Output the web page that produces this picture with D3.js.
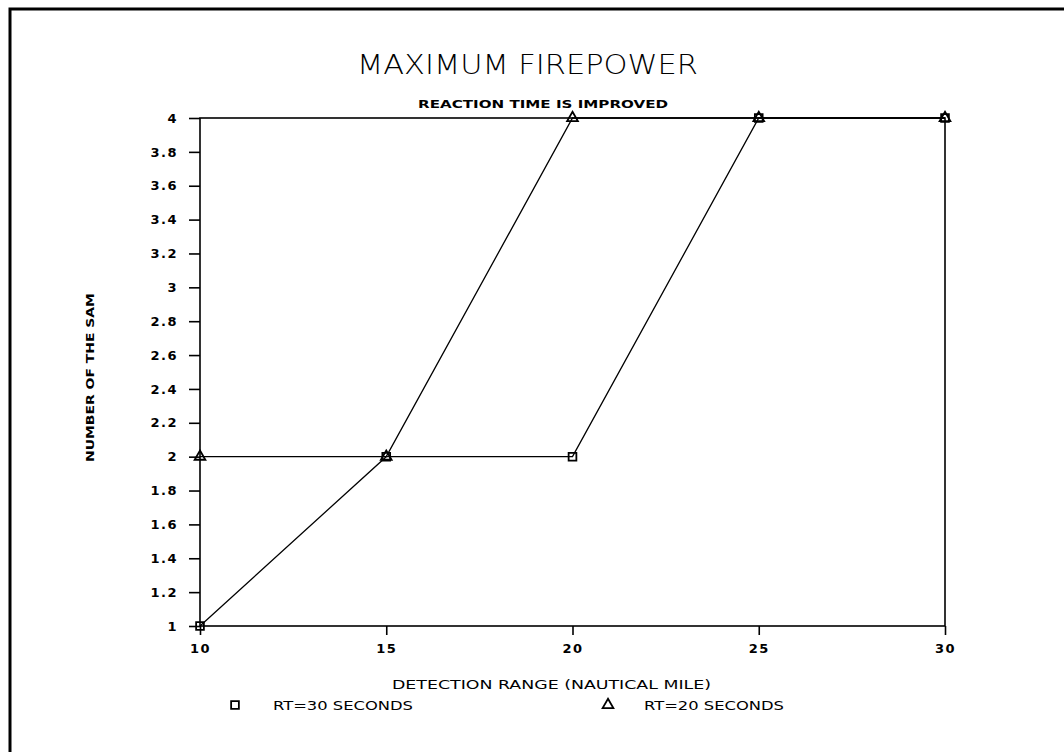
<!DOCTYPE html>
<html>
<head>
<meta charset="utf-8">
<script src="https://cdn.jsdelivr.net/npm/d3@7"></script>
<style>
  body { margin: 0; background: #fff; }
  text { font-family: "DejaVu Sans", sans-serif; fill: #000; }
</style>
</head>
<body>
<div id="chart"></div>
<script>
// data
var ranges = [10, 15, 20, 25, 30];
var rt30 = [1, 2, 2, 4, 4];
var rt20 = [2, 2, 4, 4, 4];
var yTicks = [1, 1.2, 1.4, 1.6, 1.8, 2, 2.2, 2.4, 2.6, 2.8, 3, 3.2, 3.4, 3.6, 3.8, 4];
var xTicks = [10, 15, 20, 25, 30];

var width = 1064, height = 752;
var svg = d3.select("#chart").append("svg").attr("width", width).attr("height", height);

// frame (only top and left edges fall inside the picture)
svg.append("path").attr("d", "M10," + height + "V9H" + width)
  .attr("fill", "none").attr("stroke", "#000").attr("stroke-width", 3);

var x = d3.scaleLinear().domain([10, 30]).range([200, 945]);
var y = d3.scaleLinear().domain([1, 4]).range([626, 118]);

// axes
var yAxis = d3.axisLeft(y).tickValues(yTicks).tickSize(11).tickPadding(11)
  .tickFormat(function(d) { return d3.format("~g")(d); });
var xAxis = d3.axisBottom(x).tickValues(xTicks).tickSize(9).tickPadding(9);

var gy = svg.append("g").attr("transform", "translate(200,0)").call(yAxis);
var gx = svg.append("g").attr("transform", "translate(0,626)").call(xAxis);
[gy, gx].forEach(function(g) {
  g.select(".domain").remove();
  g.selectAll("line").attr("stroke", "#000").attr("stroke-width", 1.6);
  g.selectAll("text").style("font-size", "13px").style("font-weight", "bold").style("letter-spacing", "1.5px");
});

// plot box
svg.append("rect").attr("x", x(10)).attr("y", y(4)).attr("width", x(30) - x(10)).attr("height", y(1) - y(4))
  .attr("fill", "none").attr("stroke", "#000").attr("stroke-width", 1.6);

// lines
var line = d3.line().x(function(d) { return x(d[0]); }).y(function(d) { return y(d[1]); });
var s30 = ranges.map(function(r, i) { return [r, rt30[i]]; });
var s20 = ranges.map(function(r, i) { return [r, rt20[i]]; });

svg.append("path").attr("d", line(s30)).attr("fill", "none").attr("stroke", "#000").attr("stroke-width", 1.3);
svg.append("path").attr("d", line(s20)).attr("fill", "none").attr("stroke", "#000").attr("stroke-width", 1.3);

var sq = d3.symbol().type(d3.symbolSquare).size(60);
var tri = d3.symbol().type(d3.symbolTriangle).size(50);

svg.selectAll(".m30").data(s30).enter().append("path")
  .attr("d", sq).attr("transform", function(d) { return "translate(" + x(d[0]) + "," + y(d[1]) + ")"; })
  .attr("fill", "none").attr("stroke", "#000").attr("stroke-width", 1.8);
svg.selectAll(".m20").data(s20).enter().append("path")
  .attr("d", tri).attr("transform", function(d) { return "translate(" + x(d[0]) + "," + y(d[1]) + ")"; })
  .attr("fill", "none").attr("stroke", "#000").attr("stroke-width", 1.8);

// titles
svg.append("text").attr("x", 357).attr("y", 74)
  .attr("textLength", 341).attr("lengthAdjust", "spacingAndGlyphs")
  .style("font-size", "26px").style("font-weight", "200")
  .text("MAXIMUM FIREPOWER");
svg.append("text").attr("x", 418).attr("y", 108)
  .attr("textLength", 250).attr("lengthAdjust", "spacingAndGlyphs")
  .style("font-size", "11px").style("font-weight", "bold")
  .text("REACTION TIME IS IMPROVED");

svg.append("text").attr("transform", "translate(94,462) rotate(-90)")
  .attr("textLength", 169).attr("lengthAdjust", "spacingAndGlyphs")
  .style("font-size", "11px").style("font-weight", "bold")
  .text("NUMBER OF THE SAM");

svg.append("text").attr("x", 392).attr("y", 689)
  .attr("textLength", 319).attr("lengthAdjust", "spacingAndGlyphs")
  .style("font-size", "13px")
  .text("DETECTION RANGE (NAUTICAL MILE)");

// legend
var legend = [
  { sym: sq, label: "RT=30 SECONDS", x: 235, tx: 273 },
  { sym: tri, label: "RT=20 SECONDS", x: 608, tx: 644 }
];
legend.forEach(function(l) {
  svg.append("path").attr("d", l.sym).attr("transform", "translate(" + l.x + ",705)")
    .attr("fill", "none").attr("stroke", "#000").attr("stroke-width", 1.8);
  svg.append("text").attr("x", l.tx).attr("y", 710)
    .attr("textLength", 140).attr("lengthAdjust", "spacingAndGlyphs")
    .style("font-size", "13px").text(l.label);
});
</script>
</body>
</html>
